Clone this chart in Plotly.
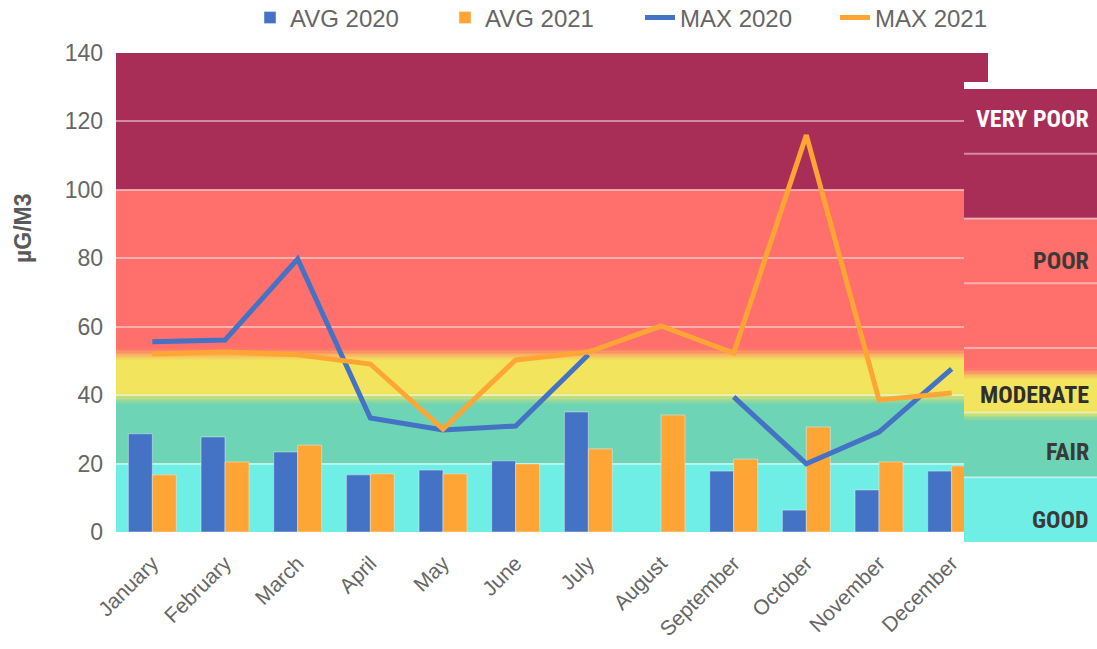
import plotly.graph_objects as go

# ---------------- data ----------------
months = ["January", "February", "March", "April", "May", "June", "July",
          "August", "September", "October", "November", "December"]
avg_2020 = [28.7, 27.8, 23.4, 16.7, 18.1, 20.8, 35.1, None, 17.8, 6.4, 12.3, 17.8]
avg_2021 = [16.7, 20.5, 25.4, 17.0, 17.0, 19.9, 24.3, 34.2, 21.3, 30.7, 20.5, 19.3]
max_2020 = [55.6, 56.1, 79.8, 33.3, 29.8, 31.0, 51.8, None, 39.5, 19.9, 29.2, 47.7]
max_2021 = [52.0, 52.6, 51.8, 49.1, 30.1, 50.3, 52.6, 60.2, 52.3, 116.0, 38.6, 40.6]

band_names = ["GOOD", "FAIR", "MODERATE", "POOR", "VERY POOR"]
band_lo = [0, 20, 39, 52, 100]
band_hi = [20, 39, 52, 100, 140]
band_label_y = [6.8, 27.8, 45.4, 86.9, 130.8]
y_ticks = [0, 20, 40, 60, 80, 100, 120, 140]

# ---------------- styles ----------------
W, H = 1097, 649
BLUE = "#4472C4"
ORANGE = "#FFA535"
band_colors = ["#6FEEE6", "#6DD4B5", "#F2E45C", "#FF6F6B", "#A82E57"]
soft_edges = [False, True, True, False]   # blurred transitions between bands
label_colors = ["#3A3A3A", "#3A3A3A", "#2E2E2E", "#3A3A3A", "#FFFFFF"]
GRID = "rgba(255,255,255,0.45)"
TXT = "#666666"
FONT = "Liberation Sans, Arial, sans-serif"
NARROW = "Liberation Sans Narrow, Arial Narrow, Roboto Condensed, Liberation Sans, Arial, sans-serif"


def px_x(p):
    return p / W


def px_y(p):
    return 1 - p / H


def hex_rgb(h):
    h = h.lstrip("#")
    return tuple(int(h[i:i + 2], 16) for i in (0, 2, 4))


def mix(c1, c2, t):
    a, b = hex_rgb(c1), hex_rgb(c2)
    return "rgb(%d,%d,%d)" % tuple(round(a[i] + (b[i] - a[i]) * t) for i in range(3))


fig = go.Figure()
fig.add_trace(go.Bar(name="AVG 2020", x=months, y=avg_2020, marker_color=BLUE))
fig.add_trace(go.Bar(name="AVG 2021", x=months, y=avg_2021, marker_color=ORANGE))
fig.add_trace(go.Scatter(name="MAX 2020", x=months, y=max_2020, mode="lines",
                         line=dict(color=BLUE, width=5), connectgaps=False))
fig.add_trace(go.Scatter(name="MAX 2021", x=months, y=max_2021, mode="lines",
                         line=dict(color=ORANGE, width=5), connectgaps=False))
# dummy trace to anchor the right-hand legend panel axes
fig.add_trace(go.Scatter(x=[0.5], y=[0], xaxis="x2", yaxis="y2", mode="markers",
                         marker=dict(opacity=0), showlegend=False, hoverinfo="skip"))


def band_shapes(xref, yref, layer):
    out = []
    for lo, hi, c in zip(band_lo, band_hi, band_colors):
        out.append(dict(type="rect", xref=xref, yref=yref, x0=0, x1=1, y0=lo, y1=hi,
                        fillcolor=c, line=dict(width=0), layer=layer))
    # soft blends across selected boundaries
    n, half = 8, 1.8
    for i, soft in enumerate(soft_edges):
        if not soft:
            continue
        b = band_hi[i]
        c_lo, c_hi = band_colors[i], band_colors[i + 1]
        for k in range(n):
            y0 = b - half + 2 * half * k / n
            y1 = b - half + 2 * half * (k + 1) / n
            t = (k + 0.5) / n
            out.append(dict(type="rect", xref=xref, yref=yref, x0=0, x1=1, y0=y0, y1=y1,
                            fillcolor=mix(c_lo, c_hi, t), line=dict(width=0), layer=layer))
    return out


shapes = band_shapes("x domain", "y", "below")

# right-hand panel (above everything)
shapes.append(dict(type="rect", xref="x2 domain", yref="y2 domain", x0=0, x1=1,
                   y0=0, y1=1, fillcolor="white", line=dict(width=0), layer="above"))
shapes += band_shapes("x2 domain", "y2", "above")
for t in y_ticks[1:-1]:
    shapes.append(dict(type="line", xref="x2 domain", yref="y2", x0=0, x1=1,
                       y0=t, y1=t, line=dict(color=GRID, width=2), layer="above"))

annotations = []
for name, yv, col in zip(band_names, band_label_y, label_colors):
    annotations.append(dict(text=name, xref="paper", yref="y2", x=px_x(1091), y=yv,
                            xanchor="right", yanchor="middle", showarrow=False,
                            font=dict(family=NARROW, size=24, color=col, weight="bold")))
annotations.append(dict(text="µG/M3", xref="paper", yref="paper", x=px_x(23), y=px_y(229),
                        xanchor="center", yanchor="middle", textangle=-90, showarrow=False,
                        font=dict(family=FONT, size=23, color="#595959", weight="bold")))

fig.update_layout(
    width=W, height=H,
    margin=dict(l=0, r=0, t=0, b=0, autoexpand=False),
    paper_bgcolor="white", plot_bgcolor="white",
    barmode="group", bargap=0.34, bargroupgap=0,
    font=dict(family=FONT, color=TXT),
    showlegend=True,
    legend=dict(orientation="h", x=px_x(250), y=px_y(18), xanchor="left", yanchor="middle",
                font=dict(family=FONT, size=24, color="#666666"), bgcolor="rgba(0,0,0,0)",
                itemwidth=30, tracegroupgap=0, entrywidth=150),
    xaxis=dict(domain=[px_x(116), px_x(988)], type="category", tickangle=-45,
               tickfont=dict(size=21, color=TXT), showgrid=False, showline=False,
               zeroline=False, ticks="", automargin=False, ticklabelstandoff=14),
    yaxis=dict(domain=[px_y(532), px_y(53)], range=[0, 140], tickvals=y_ticks,
               tickfont=dict(size=23, color=TXT), showgrid=True, gridcolor=GRID, gridwidth=2,
               zeroline=False, showline=False, ticks="", automargin=False,
               ticklabelstandoff=12),
    xaxis2=dict(domain=[px_x(964), 1.0], range=[0, 1], visible=False, anchor="y2"),
    yaxis2=dict(domain=[px_y(545), px_y(82)], range=[-0.93, 142.2], visible=False,
                anchor="x2"),
    shapes=shapes,
    annotations=annotations,
)

# remove the browser's default 8px page margin so the figure fills the window exactly
fig.write_html("out.html", config={"displayModeBar": False},
               post_script="document.body.style.margin='0px';")
